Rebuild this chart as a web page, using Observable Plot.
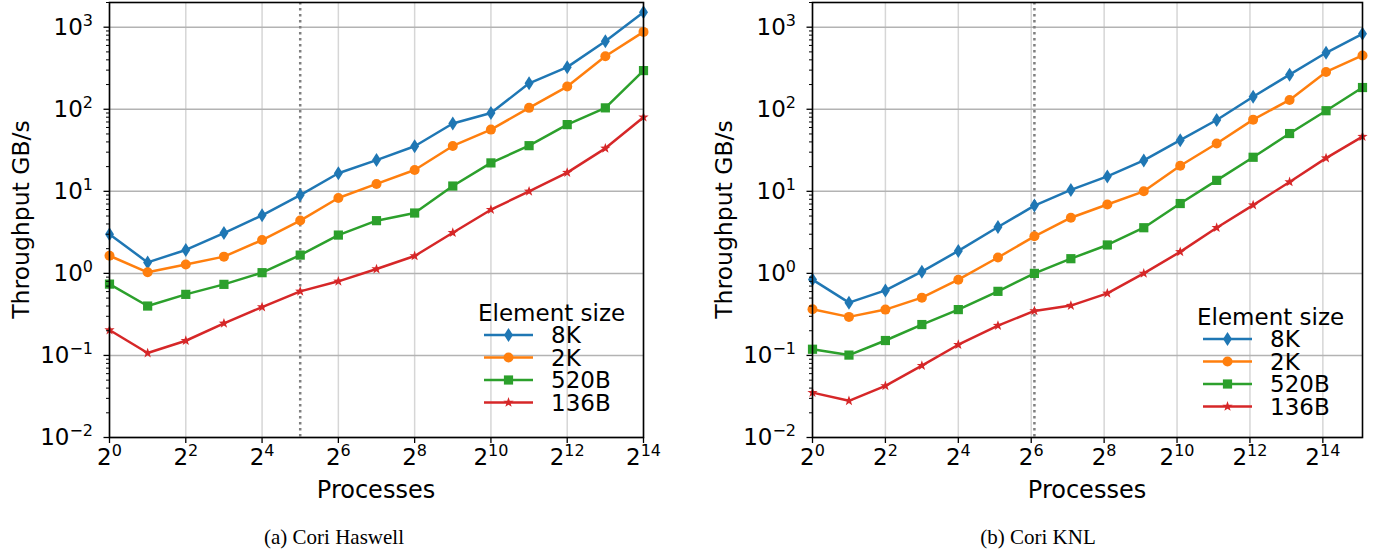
<!DOCTYPE html>
<html>
<head>
<meta charset="utf-8">
<script src="https://cdn.jsdelivr.net/npm/d3@7"></script>
<script src="https://cdn.jsdelivr.net/npm/@observablehq/plot@0.6"></script>
<style>
  html, body { margin: 0; padding: 0; background: #fff; }
  #root { position: relative; width: 1374px; height: 550px; background: #fff; overflow: hidden; }
  .panel { position: absolute; top: 0; }
  .cap { position: absolute; font-family: "Liberation Serif", "Times New Roman", serif; font-size: 21px; color: #000; transform: translateX(-50%); white-space: nowrap; }
</style>
</head>
<body>
<div id="root">
  <div id="pa" class="panel" style="left:0px"></div>
  <div id="pb" class="panel" style="left:700px"></div>
  <div class="cap" style="left:334px; top:525px">(a) Cori Haswell</div>
  <div class="cap" style="left:1038px; top:525px">(b) Cori KNL</div>
</div>
<script>
// ---------------- data ----------------
const sizes = ["8K", "2K", "520B", "136B"];
const colors = ["#1f77b4", "#ff7f0e", "#2ca02c", "#d62728"];

const haswellProcs = [1, 2, 4, 8, 16, 32, 64, 128, 256, 512, 1024, 2048, 4096, 8192, 16384];
const haswell8K   = [3.0, 1.36, 1.93, 3.1, 5.1, 9.0, 16.6, 24, 35.4, 67, 90, 207, 326, 674, 1520];
const haswell2K   = [1.64, 1.03, 1.28, 1.6, 2.55, 4.4, 8.3, 12.3, 18.2, 35.7, 56.5, 104, 189, 443, 877];
const haswell520B = [0.74, 0.40, 0.555, 0.735, 1.02, 1.67, 2.93, 4.39, 5.44, 11.6, 22.2, 36, 65, 104, 296];
const haswell136B = [0.204, 0.107, 0.151, 0.246, 0.389, 0.604, 0.80, 1.13, 1.63, 3.13, 5.97, 10, 16.9, 33.4, 80];
const haswellNode = 32;

const knlProcs = [1, 2, 4, 8, 16, 34, 68, 136, 272, 544, 1088, 2176, 4352, 8704, 17408, 34816];
const knl8K   = [0.84, 0.44, 0.62, 1.05, 1.88, 3.67, 6.7, 10.4, 15.2, 23.8, 42, 74, 142, 264, 488, 830];
const knl2K   = [0.366, 0.295, 0.362, 0.506, 0.838, 1.56, 2.83, 4.77, 6.9, 10, 20.5, 38.3, 74.7, 130, 285, 453];
const knl520B = [0.119, 0.101, 0.152, 0.238, 0.362, 0.604, 1.0, 1.51, 2.22, 3.6, 7.1, 13.6, 26, 50.6, 96, 184];
const knl136B = [0.0352, 0.028, 0.0425, 0.075, 0.135, 0.231, 0.349, 0.405, 0.571, 1.0, 1.83, 3.6, 6.8, 13, 25.4, 46.5];
const knlNode = 68;

const xTickValues = [1, 4, 16, 64, 256, 1024, 4096, 16384];
const yTickValues = [0.01, 0.1, 1, 10, 100, 1000];
const yMinorValues = [];
for (let e = -2; e <= 3; e++) for (let m = 2; m <= 9; m++) { const v = m * Math.pow(10, e); if (v <= 2000) yMinorValues.push(v); }
const yDomain = [0.01, 2000];

const yLabel = "Throughput GB/s";
const xLabel = "Processes";
const legendTitle = "Element size";

// ---------------- marker symbols ----------------
const thinDiamond = { draw(ctx) { const h = 7, w = 4.5; ctx.moveTo(0, -h); ctx.lineTo(w, 0); ctx.lineTo(0, h); ctx.lineTo(-w, 0); ctx.closePath(); } };
const circle = { draw(ctx) { const r = 5; ctx.moveTo(r, 0); ctx.arc(0, 0, r, 0, 2 * Math.PI); ctx.closePath(); } };
const square = { draw(ctx) { const s = 4.6; ctx.moveTo(-s, -s); ctx.lineTo(s, -s); ctx.lineTo(s, s); ctx.lineTo(-s, s); ctx.closePath(); } };
const star = { draw(ctx) {
  const R = 5.4, r = R * 0.4;
  for (let i = 0; i < 10; i++) {
    const a = -Math.PI / 2 + i * Math.PI / 5, rr = i % 2 ? r : R;
    const x = rr * Math.cos(a), y = rr * Math.sin(a);
    if (i === 0) ctx.moveTo(x, y); else ctx.lineTo(x, y);
  }
  ctx.closePath();
} };
const symbols = [thinDiamond, circle, square, star];

const FONT = "DejaVu Sans";
const TICK_FS = 23;
const LABEL_FS = 24;

function supify(svg) {
  d3.select(svg).selectAll("text").each(function () {
    const t = this.textContent;
    const m = t.match(/^(\d+)\^(-?\d+)$/);
    if (!m) return;
    const sel = d3.select(this);
    sel.text(m[1]).attr("font-size", TICK_FS);
    sel.append("tspan").attr("dy", -9).attr("font-size", 16).text(m[2].replace("-", "\u2212"));
  });
}

function panel(el, procs, series, nodeLine, opts) {
  const data = [];
  sizes.forEach((s, i) => procs.forEach((p, j) => data.push({ size: s, p, v: series[i][j] })));
  const { width, marginLeft, marginRight, marginTop, height, marginBottom, xMax, legendDy } = opts;
  const dotMarks = sizes.map((s, i) => Plot.dot(data.filter(d => d.size === s), {
    x: "p", y: "v", fill: colors[i], stroke: "none", symbol: symbols[i], r: 4
  }));
  const svg = Plot.plot({
    width, height, marginLeft, marginRight, marginTop, marginBottom,
    style: { fontFamily: FONT, fontSize: TICK_FS + "px", background: "white", color: "black", overflow: "visible" },
    x: { type: "log", base: 2, domain: [1, xMax], label: null },
    y: { type: "log", domain: yDomain, label: null },
    marks: [
      Plot.gridX(xTickValues, { stroke: "#d6d6d6", strokeOpacity: 1, strokeWidth: 1.5 }),
      Plot.gridY(yTickValues, { stroke: "#b3b3b3", strokeOpacity: 1, strokeWidth: 1.5 }),
      Plot.ruleX([nodeLine], { stroke: "#7f7f7f", strokeWidth: 2.5, strokeDasharray: "2.5,3.5" }),
      ...sizes.map((s, i) => Plot.line(data.filter(d => d.size === s), { x: "p", y: "v", stroke: colors[i], strokeWidth: 2.5 })),
      ...dotMarks,
      Plot.frame({ stroke: "black", strokeWidth: 1.6 }),
      Plot.axisX(xTickValues, { tickSize: 6, tickPadding: 5, strokeWidth: 1.3, fontSize: TICK_FS,
        tickFormat: d => `2^${Math.round(Math.log2(d))}` }),
      Plot.axisY(yTickValues, { tickSize: 5.5, tickPadding: 11, strokeWidth: 1.3, fontSize: TICK_FS,
        tickFormat: d => `10^${Math.round(Math.log10(d))}` }),
      Plot.axisY(yMinorValues, { tickSize: 3, strokeWidth: 1, tickFormat: () => "" })
    ]
  });
  supify(svg);
  const s = d3.select(svg);
  const plotBottom = height - marginBottom;
  const plotRight = width - marginRight;
  // axis labels
  s.append("text").attr("x", (marginLeft + plotRight) / 2).attr("y", plotBottom + 61)
    .attr("text-anchor", "middle").attr("font-family", FONT).attr("font-size", LABEL_FS).attr("fill", "black").text(xLabel);
  s.append("text").attr("transform", `translate(${marginLeft - 88},${(marginTop + plotBottom) / 2}) rotate(-90)`)
    .attr("text-anchor", "middle").attr("dominant-baseline", "central")
    .attr("font-family", FONT).attr("font-size", 23.5).attr("fill", "black").text(yLabel);
  // legend
  const g = s.append("g").attr("transform", `translate(${plotRight},${legendDy})`);
  g.append("text").attr("x", -165).attr("y", 313).attr("dominant-baseline", "central").attr("text-anchor", "start")
    .attr("font-family", FONT).attr("font-size", 23).attr("fill", "black").text(legendTitle);
  const rows = [335, 357.5, 380, 402.5];
  sizes.forEach((name, i) => {
    const y = rows[i];
    g.append("line").attr("x1", -159).attr("x2", -110).attr("y1", y).attr("y2", y)
      .attr("stroke", colors[i]).attr("stroke-width", 2.5);
    const p = d3.path(); symbols[i].draw(p, 0);
    g.append("path").attr("d", p.toString()).attr("transform", `translate(-134.5,${y})`).attr("fill", colors[i]);
    g.append("text").attr("x", -92).attr("y", y).attr("dominant-baseline", "central").attr("text-anchor", "start")
      .attr("font-family", FONT).attr("font-size", 23).attr("fill", "black").text(name);
  });
  document.getElementById(el).appendChild(svg);
}

panel("pa", haswellProcs, [haswell8K, haswell2K, haswell520B, haswell136B], haswellNode,
  { width: 660, height: 510, marginLeft: 109, marginRight: 17, marginTop: 2, marginBottom: 73, xMax: 16384, legendDy: 0 });
panel("pb", knlProcs, [knl8K, knl2K, knl520B, knl136B], knlNode,
  { width: 674, height: 510, marginLeft: 112, marginRight: 12, marginTop: 2, marginBottom: 73, xMax: 34816, legendDy: 4 });
</script>
</body>
</html>
